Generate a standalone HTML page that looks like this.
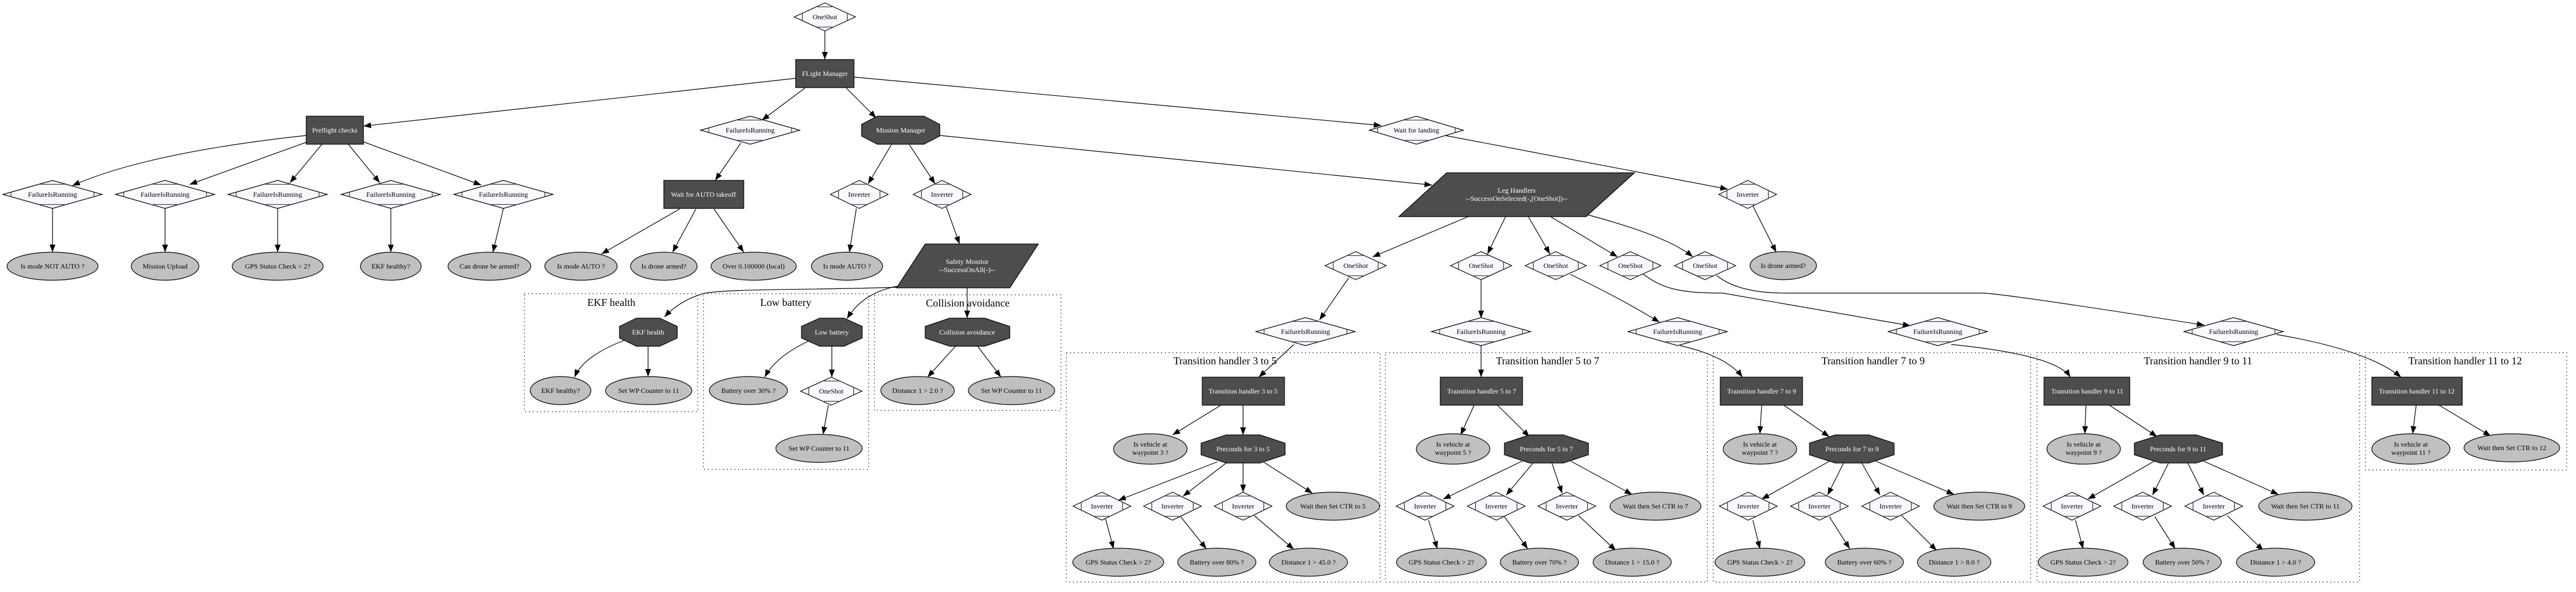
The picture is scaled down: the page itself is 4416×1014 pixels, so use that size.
<!DOCTYPE html>
<html><head><meta charset="utf-8"><style>
html,body{margin:0;padding:0;background:#fff;}
svg{display:block;}
text{font-family:"Liberation Serif","Times New Roman",serif;font-size:12px;text-anchor:middle;}
.w{fill:#fff;}
.t{font-size:18px;}
.dk{fill:#4d4d4d;stroke:#000;stroke-width:1.2;}
.el{fill:#c0c0c0;stroke:#000;stroke-width:1.2;}
.cl{fill:none;stroke:#000;stroke-width:1.2;stroke-dasharray:1.5 5;}
.e{fill:none;stroke:#000;stroke-width:1.2;marker-end:url(#a);}
</style></head><body>
<svg width="4416" height="1014" viewBox="0 0 4416 1014" xmlns="http://www.w3.org/2000/svg">
<defs>
<marker id="a" markerUnits="userSpaceOnUse" markerWidth="14" markerHeight="10" refX="13" refY="5" orient="auto"><path d="M0,0 L13,5 L0,10 Z" fill="#000"/></marker>
<g id="dI"><polygon points="-49.5,0 0,-24 49.5,0 0,24" fill="#f8f8ff" stroke="#000" stroke-width="1.2"/><path d="M-12.4,-17.3H12.4M-12.4,17.3H12.4M-35.5,-6.8V6.8M35.5,-6.8V6.8" stroke="#333" stroke-width="1.2"/></g>
<g id="dO"><polygon points="-52.5,0 0,-24 52.5,0 0,24" fill="#f8f8ff" stroke="#000" stroke-width="1.2"/><path d="M-13.1,-17.3H13.1M-13.1,17.3H13.1M-38.5,-6.4V6.4M38.5,-6.4V6.4" stroke="#333" stroke-width="1.2"/></g>
<g id="dF"><polygon points="-85,0 0,-24 85,0 0,24" fill="#f8f8ff" stroke="#000" stroke-width="1.2"/><path d="M-21.2,-17.3H21.2M-21.2,17.3H21.2M-71,-4V4M71,-4V4" stroke="#333" stroke-width="1.2"/></g>
<g id="dW"><polygon points="-80.5,0 0,-24 80.5,0 0,24" fill="#f8f8ff" stroke="#000" stroke-width="1.2"/><path d="M-20,-17.3H20M-20,17.3H20M-66.5,-4.2V4.2M66.5,-4.2V4.2" stroke="#333" stroke-width="1.2"/></g>
</defs>

<!-- clusters -->
<rect class="cl" x="899" y="503" width="297" height="202"/>
<text class="t" x="1048" y="524">EKF health</text>
<rect class="cl" x="1206" y="503" width="283" height="301"/>
<text class="t" x="1347" y="524">Low battery</text>
<rect class="cl" x="1499" y="505" width="320" height="198"/>
<text class="t" x="1659" y="525">Collision avoidance</text>
<rect class="cl" x="1828" y="604" width="538" height="393"/>
<text class="t" x="2100" y="624">Transition handler 3 to 5</text>
<rect class="cl" x="2375" y="604" width="552" height="393"/>
<text class="t" x="2653" y="624">Transition handler 5 to 7</text>
<rect class="cl" x="2937" y="604" width="544" height="393"/>
<text class="t" x="3211" y="624">Transition handler 7 to 9</text>
<rect class="cl" x="3492" y="604" width="553" height="393"/>
<text class="t" x="3768" y="624">Transition handler 9 to 11</text>
<rect class="cl" x="4055" y="604" width="345" height="201"/>
<text class="t" x="4226" y="624">Transition handler 11 to 12</text>

<!-- edges -->
<path class="e" d="M1414,53 L1414,102"/>
<path class="e" d="M1365,134 L623,216"/>
<path class="e" d="M1381,150 L1306,206"/>
<path class="e" d="M1450,150 L1502,202"/>
<path class="e" d="M1464,132 L2368,215"/>
<path class="e" d="M525,232 Q250,262 124,318"/>
<path class="e" d="M527,243 L325,316"/>
<path class="e" d="M552,247 L497,313"/>
<path class="e" d="M597,247 L651,313"/>
<path class="e" d="M623,243 L825,317"/>
<path class="e" d="M90,357 L90,432"/>
<path class="e" d="M283,357 L283,432"/>
<path class="e" d="M476,357 L476,432"/>
<path class="e" d="M670,357 L670,432"/>
<path class="e" d="M863,357 L845,432"/>
<path class="e" d="M1270,245 L1226,309"/>
<path class="e" d="M1165,358 L1031,435"/>
<path class="e" d="M1193,358 L1153,432"/>
<path class="e" d="M1224,358 L1275,432"/>
<path class="e" d="M1528,248 L1488,315"/>
<path class="e" d="M1559,248 L1603,315"/>
<path class="e" d="M1611,232 L2455,317"/>
<path class="e" d="M1468,357 L1456,432"/>
<path class="e" d="M1622,354 L1645,418"/>
<path class="e" d="M1658,493 L1658,545"/>
<path class="e" d="M1540,490 Q1480,500 1452,546"/>
<path class="e" d="M1537,492 C1400,497 1240,494 1205,503 Q1165,515 1139,543"/>
<path class="e" d="M1070,583 Q1000,610 985,646"/>
<path class="e" d="M1111,593 L1111,645"/>
<path class="e" d="M1389,583 Q1330,610 1311,646"/>
<path class="e" d="M1426,593 L1426,646"/>
<path class="e" d="M1420,694 L1411,744"/>
<path class="e" d="M1638,593 L1590,646"/>
<path class="e" d="M1676,593 L1716,646"/>
<path class="e" d="M2477,232 L2962,324"/>
<path class="e" d="M3005,353 L3045,432"/>
<path class="e" d="M2517,371 L2353,440"/>
<path class="e" d="M2581,371 L2550,435"/>
<path class="e" d="M2620,371 L2657,435"/>
<path class="e" d="M2658,371 L2773,440"/>
<path class="e" d="M2722,368 Q2860,405 2902,440"/>
<path class="e" d="M2312,476 L2262,548"/>
<path class="e" d="M2539,479 L2539,545"/>
<path class="e" d="M2692,470 Q2780,512 2845,552"/>
<path class="e" d="M2815,468 C2850,495 2880,502 2953,502 L3275,558"/>
<path class="e" d="M2943,472 Q2980,502 3060,502 L3400,502 Q3450,505 3779,557"/>
<path class="e" d="M2218,590 L2158,646"/>
<path class="e" d="M2539,592 L2539,646"/>
<path class="e" d="M2880,592 Q2960,610 2987,646"/>
<path class="e" d="M3345,590 Q3525,608 3549,646"/>
<path class="e" d="M3903,573 Q4060,600 4116,646"/>
<!-- c1 -->
<path class="e" d="M2093,694 L2010,745"/><path class="e" d="M2131,694 L2131,745"/>
<path class="e" d="M2087,791 L1917,857"/><path class="e" d="M2102,793 L2028,850"/><path class="e" d="M2131,793 L2131,843"/><path class="e" d="M2167,792 L2250,845"/>
<path class="e" d="M1895,888 L1909,940"/><path class="e" d="M2024,885 L2068,940"/><path class="e" d="M2150,883 L2218,941"/>
<!-- c2 -->
<path class="e" d="M2527,694 L2504,745"/><path class="e" d="M2567,694 L2622,748"/>
<path class="e" d="M2609,790 L2474,855"/><path class="e" d="M2629,792 L2582,848"/><path class="e" d="M2660,792 L2678,845"/><path class="e" d="M2693,790 L2798,847"/>
<path class="e" d="M2449,891 L2464,940"/><path class="e" d="M2579,885 L2619,940"/><path class="e" d="M2706,883 L2770,943"/>
<!-- c3 -->
<path class="e" d="M3020,694 L3017,743"/><path class="e" d="M3058,694 L3136,748"/>
<path class="e" d="M3136,790 L3020,855"/><path class="e" d="M3161,792 L3133,848"/><path class="e" d="M3191,792 L3223,848"/><path class="e" d="M3216,790 L3350,847"/>
<path class="e" d="M3005,891 L3017,940"/><path class="e" d="M3136,885 L3171,940"/><path class="e" d="M3260,883 L3320,943"/>
<!-- c4 -->
<path class="e" d="M3576,694 L3574,743"/><path class="e" d="M3616,694 L3698,748"/>
<path class="e" d="M3693,790 L3579,855"/><path class="e" d="M3718,792 L3690,848"/><path class="e" d="M3750,792 L3778,848"/><path class="e" d="M3778,790 L3906,847"/>
<path class="e" d="M3558,891 L3571,940"/><path class="e" d="M3694,885 L3729,940"/><path class="e" d="M3818,883 L3880,943"/>
<!-- c5 -->
<path class="e" d="M4142,694 L4136,743"/><path class="e" d="M4181,694 L4270,747"/>

<!-- nodes: diamonds -->
<use href="#dO" x="1414" y="29"/><text x="1414" y="33">OneShot</text>
<use href="#dF" x="1286" y="223"/><text x="1286" y="227">FailureIsRunning</text>
<use href="#dW" x="2428" y="223"/><text x="2428" y="227">Wait for landing</text>
<use href="#dF" x="90" y="333"/><text x="90" y="337">FailureIsRunning</text>
<use href="#dF" x="283" y="333"/><text x="283" y="337">FailureIsRunning</text>
<use href="#dF" x="476" y="333"/><text x="476" y="337">FailureIsRunning</text>
<use href="#dF" x="670" y="333"/><text x="670" y="337">FailureIsRunning</text>
<use href="#dF" x="863" y="333"/><text x="863" y="337">FailureIsRunning</text>
<use href="#dI" x="1473" y="333"/><text x="1473" y="337">Inverter</text>
<use href="#dI" x="1615" y="333"/><text x="1615" y="337">Inverter</text>
<use href="#dI" x="2996" y="333"/><text x="2996" y="337">Inverter</text>
<use href="#dO" x="2324" y="455"/><text x="2324" y="459">OneShot</text>
<use href="#dO" x="2539" y="455"/><text x="2539" y="459">OneShot</text>
<use href="#dO" x="2667" y="455"/><text x="2667" y="459">OneShot</text>
<use href="#dO" x="2795" y="455"/><text x="2795" y="459">OneShot</text>
<use href="#dO" x="2923" y="455"/><text x="2923" y="459">OneShot</text>
<use href="#dO" x="1425" y="670"/><text x="1425" y="674">OneShot</text>
<use href="#dF" x="2238" y="568"/><text x="2238" y="572">FailureIsRunning</text>
<use href="#dF" x="2539" y="568"/><text x="2539" y="572">FailureIsRunning</text>
<use href="#dF" x="2876" y="568"/><text x="2876" y="572">FailureIsRunning</text>
<use href="#dF" x="3322" y="568"/><text x="3322" y="572">FailureIsRunning</text>
<use href="#dF" x="3829" y="568"/><text x="3829" y="572">FailureIsRunning</text>
<use href="#dI" x="1889" y="867"/><text x="1889" y="871">Inverter</text>
<use href="#dI" x="2010" y="867"/><text x="2010" y="871">Inverter</text>
<use href="#dI" x="2131" y="867"/><text x="2131" y="871">Inverter</text>
<use href="#dI" x="2443" y="867"/><text x="2443" y="871">Inverter</text>
<use href="#dI" x="2565" y="867"/><text x="2565" y="871">Inverter</text>
<use href="#dI" x="2686" y="867"/><text x="2686" y="871">Inverter</text>
<use href="#dI" x="2997" y="867"/><text x="2997" y="871">Inverter</text>
<use href="#dI" x="3119" y="867"/><text x="3119" y="871">Inverter</text>
<use href="#dI" x="3241" y="867"/><text x="3241" y="871">Inverter</text>
<use href="#dI" x="3552" y="867"/><text x="3552" y="871">Inverter</text>
<use href="#dI" x="3673" y="867"/><text x="3673" y="871">Inverter</text>
<use href="#dI" x="3795" y="867"/><text x="3795" y="871">Inverter</text>

<!-- boxes -->
<rect class="dk" x="1364" y="102" width="100" height="48"/><text class="w" x="1414" y="130">FLight Manager</text>
<rect class="dk" x="525" y="199" width="98" height="48"/><text class="w" x="574" y="227">Preflight checks</text>
<rect class="dk" x="1138" y="309" width="137" height="48"/><text class="w" x="1206" y="337">Wait for AUTO takeoff</text>
<rect class="dk" x="2061" y="646" width="141" height="48"/><text class="w" x="2131" y="674">Transition handler 3 to 5</text>
<rect class="dk" x="2469" y="646" width="141" height="48"/><text class="w" x="2540" y="674">Transition handler 5 to 7</text>
<rect class="dk" x="2949" y="646" width="141" height="48"/><text class="w" x="3020" y="674">Transition handler 7 to 9</text>
<rect class="dk" x="3504" y="646" width="147" height="48"/><text class="w" x="3578" y="674">Transition handler 9 to 11</text>
<rect class="dk" x="4066" y="646" width="155" height="48"/><text class="w" x="4143" y="674">Transition handler 11 to 12</text>

<!-- octagons -->
<polygon class="dk" points="1504,199 1584,199 1611,213 1611,233 1584,247 1504,247 1477,233 1477,213"/><text class="w" x="1544" y="227">Mission Manager</text>
<polygon class="dk" points="1091,545 1131,545 1161,559 1161,579 1131,593 1091,593 1062,579 1062,559"/><text class="w" x="1111" y="573">EKF health</text>
<polygon class="dk" points="1405,545 1447,545 1478,559 1478,579 1447,593 1405,593 1374,579 1374,559"/><text class="w" x="1426" y="573">Low battery</text>
<polygon class="dk" points="1628,545 1688,545 1731,559 1731,579 1688,593 1628,593 1586,579 1586,559"/><text class="w" x="1658" y="573">Collision avoidance</text>
<polygon class="dk" points="2102,745 2160,745 2203,759 2203,779 2160,793 2102,793 2059,779 2059,759"/><text class="w" x="2131" y="773">Preconds for 3 to 5</text>
<polygon class="dk" points="2622,745 2680,745 2723,759 2723,779 2680,793 2622,793 2579,779 2579,759"/><text class="w" x="2651" y="773">Preconds for 5 to 7</text>
<polygon class="dk" points="3146,745 3204,745 3247,759 3247,779 3204,793 3146,793 3102,779 3102,759"/><text class="w" x="3175" y="773">Preconds for 7 to 9</text>
<polygon class="dk" points="3703,745 3765,745 3810,759 3810,779 3765,793 3703,793 3659,779 3659,759"/><text class="w" x="3734" y="773">Preconds for 9 to 11</text>

<!-- parallelograms -->
<polygon class="dk" points="1586,418 1780,418 1731,493 1537,493"/><text class="w" x="1658" y="452">Safety Monitor</text><text class="w" x="1658" y="466">--SuccessOnAll(-)--</text>
<polygon class="dk" points="2480,296 2802,296 2719,371 2398,371"/><text class="w" x="2600" y="330">Leg Handlers</text><text class="w" x="2600" y="344">--SuccessOnSelected(-,[OneShot])--</text>

<!-- ellipses -->
<ellipse class="el" cx="90" cy="456" rx="78" ry="24"/><text x="90" y="460">Is mode NOT AUTO ?</text>
<ellipse class="el" cx="283" cy="456" rx="58" ry="24"/><text x="283" y="460">Mission Upload</text>
<ellipse class="el" cx="476" cy="456" rx="78" ry="24"/><text x="476" y="460">GPS Status Check &gt; 2?</text>
<ellipse class="el" cx="670" cy="456" rx="52" ry="24"/><text x="670" y="460">EKF healthy?</text>
<ellipse class="el" cx="839" cy="456" rx="71" ry="24"/><text x="839" y="460">Can drone be armed?</text>
<ellipse class="el" cx="996" cy="456" rx="62" ry="24"/><text x="996" y="460">Is mode AUTO ?</text>
<ellipse class="el" cx="1138" cy="456" rx="57" ry="24"/><text x="1138" y="460">Is drone armed?</text>
<ellipse class="el" cx="1292" cy="456" rx="73" ry="24"/><text x="1292" y="460">Over 0.100000 (local)</text>
<ellipse class="el" cx="1452" cy="456" rx="61" ry="24"/><text x="1452" y="460">Is mode AUTO ?</text>
<ellipse class="el" cx="3057" cy="455" rx="57" ry="24"/><text x="3057" y="459">Is drone armed?</text>
<ellipse class="el" cx="961" cy="669" rx="52" ry="24"/><text x="961" y="673">EKF healthy?</text>
<ellipse class="el" cx="1112" cy="669" rx="74" ry="24"/><text x="1112" y="673">Set WP Counter to 11</text>
<ellipse class="el" cx="1283" cy="669" rx="67" ry="24"/><text x="1283" y="673">Battery over 30% ?</text>
<ellipse class="el" cx="1404" cy="768" rx="74" ry="24"/><text x="1404" y="772">Set WP Counter to 11</text>
<ellipse class="el" cx="1573" cy="669" rx="63" ry="24"/><text x="1573" y="673">Distance 1 &gt; 2.0 ?</text>
<ellipse class="el" cx="1734" cy="669" rx="74" ry="24"/><text x="1734" y="673">Set WP Counter to 11</text>

<ellipse class="el" cx="1972" cy="769" rx="63" ry="26"/><text x="1972" y="765">Is vehicle at</text><text x="1972" y="779">waypoint 3 ?</text>
<ellipse class="el" cx="2285" cy="867" rx="80" ry="24"/><text x="2285" y="871">Wait then Set CTR to 5</text>
<ellipse class="el" cx="1917" cy="963" rx="78" ry="24"/><text x="1917" y="967">GPS Status Check &gt; 2?</text>
<ellipse class="el" cx="2086" cy="963" rx="67" ry="24"/><text x="2086" y="967">Battery over 80% ?</text>
<ellipse class="el" cx="2243" cy="963" rx="67" ry="24"/><text x="2243" y="967">Distance 1 &gt; 45.0 ?</text>

<ellipse class="el" cx="2491" cy="769" rx="63" ry="26"/><text x="2491" y="765">Is vehicle at</text><text x="2491" y="779">waypoint 5 ?</text>
<ellipse class="el" cx="2838" cy="867" rx="78" ry="24"/><text x="2838" y="871">Wait then Set CTR to 7</text>
<ellipse class="el" cx="2471" cy="963" rx="77" ry="24"/><text x="2471" y="967">GPS Status Check &gt; 2?</text>
<ellipse class="el" cx="2639" cy="963" rx="67" ry="24"/><text x="2639" y="967">Battery over 70% ?</text>
<ellipse class="el" cx="2798" cy="963" rx="67" ry="24"/><text x="2798" y="967">Distance 1 &gt; 15.0 ?</text>

<ellipse class="el" cx="3017" cy="769" rx="63" ry="26"/><text x="3017" y="765">Is vehicle at</text><text x="3017" y="779">waypoint 7 ?</text>
<ellipse class="el" cx="3393" cy="867" rx="78" ry="24"/><text x="3393" y="871">Wait then Set CTR to 9</text>
<ellipse class="el" cx="3017" cy="963" rx="77" ry="24"/><text x="3017" y="967">GPS Status Check &gt; 2?</text>
<ellipse class="el" cx="3196" cy="963" rx="67" ry="24"/><text x="3196" y="967">Battery over 60% ?</text>
<ellipse class="el" cx="3350" cy="963" rx="63" ry="24"/><text x="3350" y="967">Distance 1 &gt; 8.0 ?</text>

<ellipse class="el" cx="3572" cy="769" rx="63" ry="26"/><text x="3572" y="765">Is vehicle at</text><text x="3572" y="779">waypoint 9 ?</text>
<ellipse class="el" cx="3952" cy="867" rx="80" ry="24"/><text x="3952" y="871">Wait then Set CTR to 11</text>
<ellipse class="el" cx="3571" cy="963" rx="77" ry="24"/><text x="3571" y="967">GPS Status Check &gt; 2?</text>
<ellipse class="el" cx="3741" cy="963" rx="67" ry="24"/><text x="3741" y="967">Battery over 50% ?</text>
<ellipse class="el" cx="3901" cy="963" rx="67" ry="24"/><text x="3901" y="967">Distance 1 &gt; 4.0 ?</text>

<ellipse class="el" cx="4133" cy="769" rx="67" ry="26"/><text x="4133" y="765">Is vehicle at</text><text x="4133" y="779">waypoint 11 ?</text>
<ellipse class="el" cx="4306" cy="767" rx="82" ry="24"/><text x="4306" y="771">Wait then Set CTR to 12</text>
</svg>
</body></html>
